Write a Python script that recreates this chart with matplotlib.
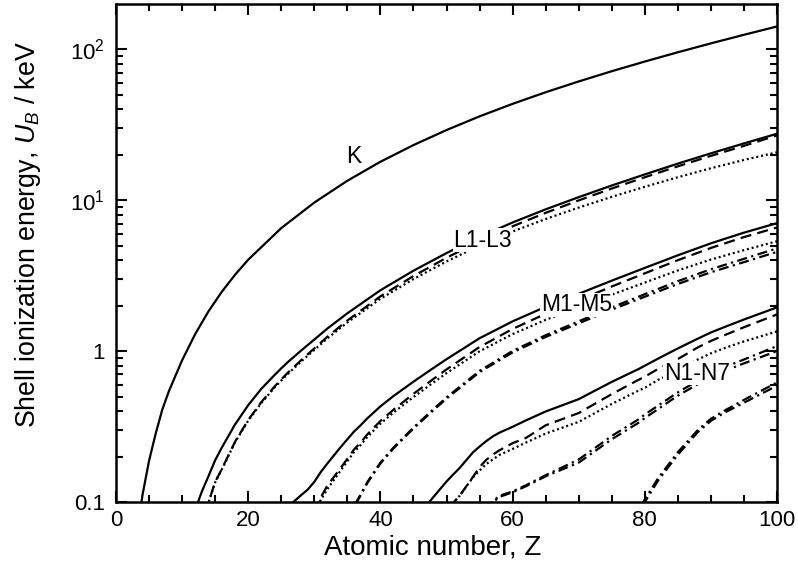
import numpy as np
import matplotlib
matplotlib.use("Agg")
import matplotlib.pyplot as plt

plt.rcParams['font.family'] = ['Liberation Sans', 'DejaVu Sans']
plt.rcParams['mathtext.fontset'] = 'custom'
plt.rcParams['mathtext.rm'] = 'Liberation Sans'
plt.rcParams['mathtext.it'] = 'Liberation Sans:italic'

nan = np.nan

#-------- K shell --------------------------------------
z_k = [3, 4, 5, 6, 7, 8, 10, 12, 14, 16, 18, 20, 25, 30, 35, 40, 45, 50,
       55, 60, 65, 70, 75, 80, 85, 90, 95, 100]
e_k = [0.0548, 0.111, 0.188, 0.284, 0.410, 0.543, 0.870, 1.303, 1.839,
       2.472, 3.206, 4.038, 6.539, 9.659, 13.47, 18.00, 23.22, 29.20,
       35.99, 43.57, 52.00, 61.33, 71.68, 83.10, 95.73, 109.65, 124.98, 141.9]

#-------- L shells -------------------------------------
z_l = [11, 12, 13, 14, 15, 16, 18, 20, 22, 24, 25, 26, 28, 30, 32, 35, 40,
       45, 50, 55, 60, 65, 70, 75, 80, 85, 90, 95, 100]
e_l1 = [0.0633, 0.0894, 0.1177, 0.1487, 0.1893, 0.2292, 0.3263, 0.4384,
        0.5637, 0.6953, 0.769, 0.8461, 1.0081, 1.1936, 1.4143, 1.782, 2.532,
        3.412, 4.465, 5.714, 7.126, 8.708, 10.486, 12.527, 14.839, 17.493,
        20.472, 23.808, 27.6]
e_l2 = [0.0306, 0.0496, 0.0728, 0.0998, 0.136, 0.1652, 0.2506, 0.3500,
        0.4602, 0.5838, 0.6495, 0.7199, 0.8697, 1.0428, 1.2478, 1.596, 2.307,
        3.146, 4.156, 5.359, 6.722, 8.252, 9.978, 11.959, 14.209, 16.785,
        19.693, 22.944, 26.9]
e_l3 = [0.0306, 0.0496, 0.0728, 0.0992, 0.135, 0.1642, 0.2484, 0.3463,
        0.4538, 0.5742, 0.6387, 0.7068, 0.8527, 1.0197, 1.2167, 1.550, 2.2223,
        3.0038, 3.9288, 5.0119, 6.2085, 7.514, 8.9436, 10.535, 12.284, 14.214,
        16.300, 18.504, 20.8]

#-------- M shells -------------------------------------
z_m = [25, 26, 27, 28, 29, 30, 31, 32, 34, 36, 37, 38, 40, 42, 45, 48, 50,
       55, 60, 65, 70, 75, 80, 85, 90, 95, 100]
e_m1 = [0.0823, 0.0912, 0.1016, 0.1109, 0.1208, 0.1359, 0.1585, 0.1805,
        0.2316, 0.2927, 0.3222, 0.3578, 0.4303, 0.5046, 0.6271, 0.7720,
        0.8840, 1.2171, 1.5753, 1.9675, 2.3981, 2.9317, 3.5616, 4.317,
        5.1823, 6.10, 7.05]
e_m2 = [0.0470, 0.0527, 0.0589, 0.0681, 0.0737, 0.0866, 0.1076, 0.1291,
        0.1682, 0.2227, 0.2474, 0.2800, 0.3442, 0.4097, 0.5210, 0.6527,
        0.7564, 1.0650, 1.4028, 1.7677, 2.1730, 2.6816, 3.2785, 4.008,
        4.8304, 5.70, 6.60]
e_m3 = [0.0470, 0.0527, 0.0589, 0.0681, 0.0737, 0.0866, 0.1036, 0.1222,
        0.1619, 0.2141, 0.2385, 0.2691, 0.3305, 0.3923, 0.4961, 0.6185,
        0.7144, 0.9976, 1.2970, 1.6113, 1.9498, 2.3673, 2.8471, 3.426,
        4.0461, 4.67, 5.35]
e_m4 = [nan, nan, nan, nan, nan, nan, nan, 0.0299, 0.0566, 0.0939, 0.1120,
        0.1350, 0.1823, 0.2302, 0.3117, 0.4115, 0.4933, 0.7400, 1.0033,
        1.2750, 1.5763, 1.9489, 2.3849, 2.909, 3.4908, 4.09, 4.80]
e_m5 = [nan, nan, nan, nan, nan, nan, nan, 0.0299, 0.0566, 0.0927, 0.1103,
        0.1331, 0.1800, 0.2270, 0.3070, 0.4047, 0.4848, 0.7260, 0.9804,
        1.2412, 1.5278, 1.8829, 2.2949, 2.787, 3.3320, 3.89, 4.55]

#-------- N shells -------------------------------------
z_n = [44, 46, 47, 48, 50, 51, 52, 54, 55, 56, 57, 58, 60, 62, 65, 70, 75,
       79, 80, 82, 85, 88, 90, 92, 95, 100]
e_n1 = [0.0750, 0.0870, 0.0952, 0.1076, 0.1367, 0.1520, 0.1683, 0.2133,
        0.2330, 0.2531, 0.2720, 0.2880, 0.3150, 0.3472, 0.3979, 0.4805,
        0.6254, 0.7588, 0.8003, 0.8914, 1.042, 1.2084, 1.3295, 1.4408,
        1.62, 1.95]
e_n2 = [nan, nan, 0.0626, 0.0669, 0.0888, 0.0984, 0.1102, 0.1467, 0.1700,
        0.1900, 0.2058, 0.2200, 0.2453, 0.2656, 0.3224, 0.3887, 0.5187,
        0.6437, 0.6775, 0.7617, 0.886, 1.0576, 1.1682, 1.2726, 1.44, 1.75]
e_n3 = [nan, nan, 0.0559, 0.0669, 0.0888, 0.0984, 0.1102, 0.1455, 0.1616,
        0.1780, 0.1914, 0.2050, 0.2247, 0.2474, 0.2841, 0.3397, 0.4468,
        0.5460, 0.5705, 0.6445, 0.740, 0.8791, 0.9673, 1.0449, 1.16, 1.35]
e_n4 = [nan, nan, nan, nan, nan, nan, nan, 0.0695, 0.0788, 0.0925, 0.1010,
        0.1099, 0.1175, 0.1290, 0.1505, 0.1912, 0.2739, 0.3520, 0.3799,
        0.4352, 0.533, 0.6359, 0.7141, 0.7801, 0.88, 1.08]
e_n5 = [nan, nan, nan, nan, nan, nan, nan, 0.0675, 0.0765, 0.0899, 0.0989,
        0.1080, 0.1160, 0.1270, 0.1480, 0.1824, 0.2605, 0.3339, 0.3597,
        0.4129, 0.507, 0.6027, 0.6764, 0.7367, 0.83, 1.00]
e_n6 = [nan, nan, nan, nan, nan, nan, nan, nan, nan, nan, nan, nan, nan,
        nan, nan, nan, 0.0405, 0.0872, 0.1040, 0.1436, 0.214, 0.2990,
        0.3560, 0.4020, 0.475, 0.62]
e_n7 = [nan, nan, nan, nan, nan, nan, nan, nan, nan, nan, nan, nan, nan,
        nan, nan, nan, 0.0405, 0.0838, 0.0999, 0.1385, 0.206, 0.2900,
        0.3450, 0.3900, 0.455, 0.59]

shell_labels = ["K", "L1-L3", "M1-M5", "N1-N7"]
label_pos = [(35.9, 19.6), (55.5, 5.45), (69.7, 2.03), (87.9, 0.715)]

#-------- figure ---------------------------------------
fig = plt.figure(figsize=(7.98, 5.62), dpi=100)
ax = fig.add_axes([0.1454, 0.1068, 0.8283, 0.8861])

lw = 1.6
solid = dict(color="black", lw=lw, ls="-")
dashed = dict(color="black", lw=lw, ls=(0, (5, 2.8)))
dotted = dict(color="black", lw=lw, ls=(0, (0.9, 1.3)))
dashdot = dict(color="black", lw=lw, ls=(0, (4.5, 2, 1, 2)))

ax.plot(z_k, e_k, **solid)

ax.plot(z_l, e_l1, **solid)
ax.plot(z_l, e_l2, **dashed)
ax.plot(z_l, e_l3, **dotted)

ax.plot(z_m, e_m1, **solid)
ax.plot(z_m, e_m2, **dashed)
ax.plot(z_m, e_m3, **dotted)
ax.plot(z_m, e_m4, **dashdot)
ax.plot(z_m, e_m5, **dashdot)

ax.plot(z_n, e_n1, **solid)
ax.plot(z_n, e_n2, **dashed)
ax.plot(z_n, e_n3, **dotted)
ax.plot(z_n, e_n4, **dashdot)
ax.plot(z_n, e_n5, **dashdot)
ax.plot(z_n, e_n6, **dashdot)
ax.plot(z_n, e_n7, **dashdot)

for txt, (zx, ey) in zip(shell_labels, label_pos):
    ax.text(zx, ey, txt, fontsize=16.5, ha="center", va="center",
            bbox=dict(facecolor="white", edgecolor="none", pad=0.5), zorder=5)

ax.set_yscale("log")
ax.set_xlim(0, 100)
ax.set_ylim(0.1, 200)

ax.set_xticks([0, 20, 40, 60, 80, 100])
ax.set_xticks(np.arange(0, 101, 5), minor=True)
ax.set_yticks([0.1, 1, 10, 100])
ax.set_yticklabels(["0.1", "1", r"$10^1$", r"$10^2$"])
ax.set_yticks([m * 10.0 ** p for p in (-1, 0, 1, 2) for m in range(2, 10)
               if m * 10.0 ** p < 200], minor=True)
ax.yaxis.set_minor_formatter(plt.NullFormatter())

ax.tick_params(which="both", direction="in", top=True, right=True,
               width=1.5, labelsize=16)
ax.tick_params(which="major", length=8)
ax.tick_params(which="minor", length=5)
ax.tick_params(axis="y", pad=8)
ax.tick_params(axis="x", pad=6)
for s in ax.spines.values():
    s.set_linewidth(1.8)

ax.set_xlabel("Atomic number, Z", fontsize=20)
ax.set_ylabel(r"Shell ionization energy, $U_B$ / keV", fontsize=19.3)
ax.xaxis.set_label_coords(0.4796, -0.066)
ax.yaxis.set_label_coords(-0.110, 0.536)

fig.savefig("out.png", dpi=100)
